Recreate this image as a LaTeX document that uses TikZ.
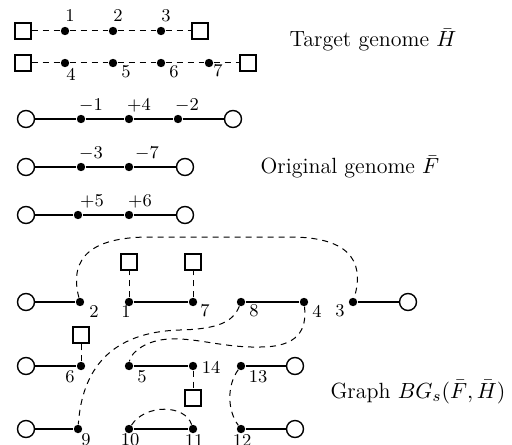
\documentclass[tikz,border=0pt]{standalone}
\usetikzlibrary{calc, positioning}
\begin{document}
\begin{tikzpicture}[x=0.5pt, y=-0.5pt,
    gene/.style={circle, fill=black, inner sep=0pt, minimum size=4.2pt},
    telo/.style={circle, draw, line width=0.7pt, fill=white, inner sep=0pt, minimum size=8.5pt},
    endbox/.style={rectangle, draw, line width=0.6pt, fill=white, inner sep=0pt, minimum size=8pt},
    lab/.style={font=\small, inner sep=0pt},
    ttl/.style={font=\fontsize{11}{13}\selectfont, inner sep=0pt},
    chr/.style={line width=0.7pt},
    adj/.style={line width=0.5pt, dash pattern=on 3pt off 2.5pt}]
    \useasboundingbox (0,0) rectangle (512,444);

    % Target genome
    \node[endbox] (tL1) at (23,31) {};
    \node[endbox] (tR1) at (200,31) {};
    \foreach \x/\n in {65/1, 113/2, 161/3} {
        \node[gene] (t\n) at (\x,31) {};
        \node[lab] (lt\n) at (\x+5,16) {\n};
    }
    \draw[adj] (tL1) -- (t1) -- (t2) -- (t3) -- (tR1);

    \node[endbox] (tL2) at (23,63) {};
    \node[endbox] (tR2) at (248,63) {};
    \foreach \x/\n/\lx/\ly in {65/4/71/74, 113/5/126/72, 161/6/174/72, 209/7/218/71} {
        \node[gene] (t\n) at (\x,63) {};
        \node[lab] (lt\n) at (\lx,\ly) {\n};
    }
    \draw[adj] (tL2) -- (t4) -- (t5) -- (t6) -- (t7) -- (tR2);

    \node[ttl] (tgt) at (373,40) {Target genome $\bar{H}$};

    % Original genome
    \node[telo] (oL1) at (26,119) {};
    \node[telo] (oR1) at (233,119) {};
    \foreach \x/\k/\lx/\t in {81/a/91/$-1$, 129/b/139/$+4$, 178/c/187/$-2$} {
        \node[gene] (o1\k) at (\x,119) {};
        \node[lab] (lo1\k) at (\lx,106) {\t};
    }
    \draw[chr] (oL1) -- (o1a) -- (o1b) -- (o1c) -- (oR1);

    \node[telo] (oL2) at (26,167) {};
    \node[telo] (oR2) at (185,167) {};
    \foreach \x/\k/\lx/\t in {81/a/91/$-3$, 129/b/147/$-7$} {
        \node[gene] (o2\k) at (\x,167) {};
        \node[lab] (lo2\k) at (\lx,154) {\t};
    }
    \draw[chr] (oL2) -- (o2a) -- (o2b) -- (oR2);

    \node[telo] (oL3) at (26,215) {};
    \node[telo] (oR3) at (185,215) {};
    \foreach \x/\k/\lx/\t in {78/a/92/$+5$, 129/b/140/$+6$} {
        \node[gene] (o3\k) at (\x,215) {};
        \node[lab] (lo3\k) at (\lx,202) {\t};
    }
    \draw[chr] (oL3) -- (o3a) -- (o3b) -- (oR3);

    \node[ttl] (org) at (350,167) {Original genome $\bar{F}$};

    % Graph
    \foreach \x/\n/\lx/\ly in {80/2/94/311, 129/1/126/311, 193/7/205/311, 241/8/254/311, 304/4/317/311, 353/3/340/311} {
        \node[gene] (g\n) at (\x,302) {};
        \node[lab] (lg\n) at (\lx,\ly) {\n};
    }
    \foreach \x/\n/\lx/\ly in {81/6/70/377, 129/5/142/377, 193/14/211/367, 241/13/258/377} {
        \node[gene] (g\n) at (\x,366) {};
        \node[lab] (lg\n) at (\lx,\ly) {\n};
    }
    \foreach \x/\n/\lx/\ly in {78/9/86/440, 129/10/130/440, 193/11/194/440, 241/12/242/440} {
        \node[gene] (g\n) at (\x,429) {};
        \node[lab] (lg\n) at (\lx,\ly) {\n};
    }

    \node[telo] (gL1) at (26,302) {};
    \node[telo] (gR1) at (408,302) {};
    \node[telo] (gL2) at (26,366) {};
    \node[telo] (gR2) at (295,366) {};
    \node[telo] (gL3) at (26,429) {};
    \node[telo] (gR3) at (295,429) {};

    \node[endbox] (s1) at (129,262) {};
    \node[endbox] (s7) at (193,262) {};
    \node[endbox] (s6) at (81,335) {};
    \node[endbox] (s14) at (193,398) {};

    \draw[chr] (gL1) -- (g2);
    \draw[chr] (g1) -- (g7);
    \draw[chr] (g8) -- (g4);
    \draw[chr] (g3) -- (gR1);
    \draw[chr] (gL2) -- (g6);
    \draw[chr] (g5) -- (g14);
    \draw[chr] (g13) -- (gR2);
    \draw[chr] (gL3) -- (g9);
    \draw[chr] (g10) -- (g11);
    \draw[chr] (g12) -- (gR3);

    % Adjacency edges
    \draw[adj] (g1) -- (s1);
    \draw[adj] (g7) -- (s7);
    \draw[adj] (g6) -- (s6);
    \draw[adj] (g14) -- (s14);
    \draw[adj] (g2) .. controls (68,255) and (95,237) .. (150,237) -- (290,237)
        .. controls (345,237) and (366,258) .. (g3);
    \draw[adj] (g8) .. controls (233,322) and (218,329) .. (180,330)
        .. controls (110,332) and (82,370) .. (g9);
    \draw[adj] (g4) .. controls (307,330) and (298,347) .. (260,347)
        .. controls (220,348) and (190,335) .. (160,340)
        .. controls (140,344) and (130,355) .. (g5);
    \draw[adj] (g13) .. controls (227,385) and (227,410) .. (g12);
    \draw[adj] (g10) .. controls (145,404) and (185,404) .. (g11);

    \node[ttl] (bg) at (418,392) {Graph $BG_s(\bar{F},\bar{H})$};
\end{tikzpicture}
\end{document}
